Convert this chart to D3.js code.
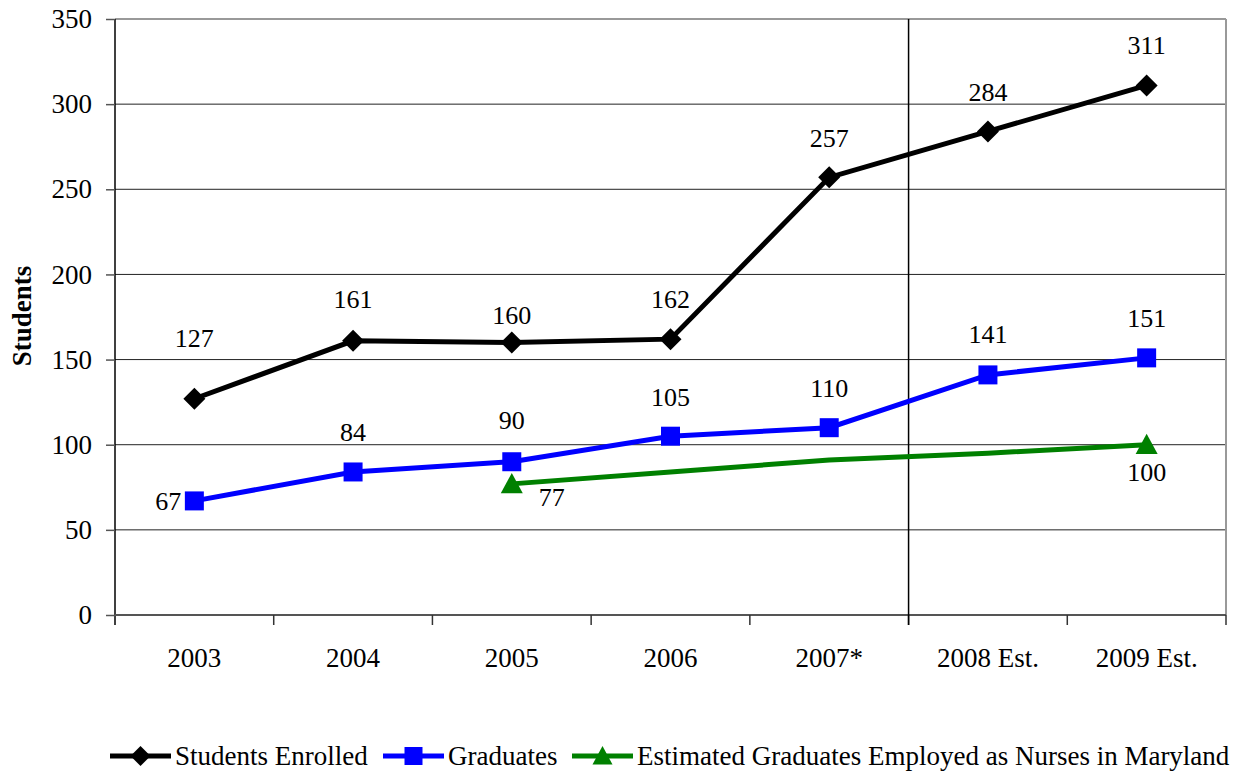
<!DOCTYPE html>
<html>
<head>
<meta charset="utf-8">
<script src="https://cdn.jsdelivr.net/npm/d3@7"></script>
<style>
  html, body { margin: 0; padding: 0; background: #fff; }
  svg { display: block; font-family: "Liberation Serif", "Times New Roman", serif; }
</style>
</head>
<body>
<svg id="chart" width="1242" height="772"></svg>
<script>
const categories = ["2003", "2004", "2005", "2006", "2007*", "2008 Est.", "2009 Est."];
const enrolled = [127, 161, 160, 162, 257, 284, 311];
const graduates = [67, 84, 90, 105, 110, 141, 151];
const employed = [null, null, 77, 84, 91, 95, 100];
const employedMarked = [false, false, true, false, false, false, true];
const yTicks = [0, 50, 100, 150, 200, 250, 300, 350];
const seriesNames = ["Students Enrolled", "Graduates", "Estimated Graduates Employed as Nurses in Maryland"];

// label offsets (styling)
const enrolledLabelDy = [-60, -41, -27, -40, -39, -39, -40];
const gradLabelDy = [1, -39, -41, -39, -39, -40, -39];
const gradLabelDx = [-26, 0, 0, 0, 0, 0, 0];

const svg = d3.select("#chart");
const m = { left: 115, right: 1226, top: 19, bottom: 615 };

const x = d3.scaleBand().domain(categories).range([m.left, m.right]).padding(0);
const y = d3.scaleLinear().domain([0, 350]).range([m.bottom, m.top]);
const cx = d => x(d) + x.bandwidth() / 2;

// gridlines
svg.append("g").selectAll("line").data(yTicks.filter(t => t > 0 && t < 350)).join("line")
  .attr("x1", m.left).attr("x2", m.right)
  .attr("y1", d => y(d)).attr("y2", d => y(d))
  .attr("stroke", "#222").attr("stroke-width", 1);

// top & right border
svg.append("line").attr("x1", m.left).attr("x2", m.right).attr("y1", y(350)).attr("y2", y(350))
  .attr("stroke", "#999").attr("stroke-width", 2);
svg.append("line").attr("x1", m.right).attr("x2", m.right).attr("y1", m.top).attr("y2", m.bottom)
  .attr("stroke", "#999").attr("stroke-width", 2);

// y axis
const yAxis = d3.axisLeft(y).tickValues(yTicks).tickSize(9).tickPadding(14);
const gy = svg.append("g").attr("transform", `translate(${m.left},0)`).call(yAxis);
gy.select(".domain").attr("stroke", "#000").attr("stroke-width", 1.5).attr("d", `M0,${m.top}V${m.bottom + 10}`);
gy.selectAll(".tick line").attr("stroke", "#555").attr("stroke-width", 1.5);
gy.selectAll(".tick text").attr("font-family", "Liberation Serif").attr("font-size", 27).attr("fill", "#000");

// x axis
const xAxis = d3.axisBottom(x).tickSize(0).tickPadding(33);
const gx = svg.append("g").attr("transform", `translate(0,${m.bottom})`).call(xAxis);
gx.select(".domain").attr("stroke", "#555").attr("stroke-width", 2).attr("d", `M${m.left},0H${m.right}`);
gx.selectAll(".tick text").attr("font-family", "Liberation Serif").attr("font-size", 27).attr("fill", "#000");
// boundary ticks
const bounds = categories.map(c => x(c)).concat([m.right]).slice(1);
svg.append("g").selectAll("line").data(bounds).join("line")
  .attr("x1", d => d).attr("x2", d => d).attr("y1", m.bottom).attr("y2", m.bottom + 10)
  .attr("stroke", "#333").attr("stroke-width", 1.5);

// vertical separator between 2007 and 2008
svg.append("line")
  .attr("x1", x(categories[5])).attr("x2", x(categories[5]))
  .attr("y1", m.top).attr("y2", m.bottom + 10)
  .attr("stroke", "#000").attr("stroke-width", 1.5);

// y title
svg.append("text")
  .attr("transform", `translate(31,316) rotate(-90)`)
  .attr("text-anchor", "middle")
  .attr("font-family", "Liberation Serif").attr("font-weight", "bold").attr("font-size", 27)
  .text("Students");

const line = d3.line().defined(d => d.v != null).x(d => cx(d.c)).y(d => y(d.v));
const toPts = arr => arr.map((v, i) => ({ c: categories[i], v, i }));

function diamondPath(s) { return `M0,${-s}L${s},0L0,${s}L${-s},0Z`; }
function squarePath(s) { return `M${-s},${-s}H${s}V${s}H${-s}Z`; }
function trianglePath(s) { return `M0,${-s}L${s},${s * 0.85}L${-s},${s * 0.85}Z`; }

// green series
svg.append("path").datum(toPts(employed)).attr("d", line)
  .attr("fill", "none").attr("stroke", "#008000").attr("stroke-width", 5);
// blue series
svg.append("path").datum(toPts(graduates)).attr("d", line)
  .attr("fill", "none").attr("stroke", "#0000ff").attr("stroke-width", 5);
// black series
svg.append("path").datum(toPts(enrolled)).attr("d", line)
  .attr("fill", "none").attr("stroke", "#000").attr("stroke-width", 5);

// markers
svg.append("g").selectAll("path").data(toPts(employed).filter(d => employedMarked[d.i])).join("path")
  .attr("transform", d => `translate(${cx(d.c)},${y(d.v)})`)
  .attr("d", trianglePath(11)).attr("fill", "#008000");
svg.append("g").selectAll("path").data(toPts(graduates)).join("path")
  .attr("transform", d => `translate(${cx(d.c)},${y(d.v)})`)
  .attr("d", squarePath(9.5)).attr("fill", "#0000ff");
svg.append("g").selectAll("path").data(toPts(enrolled)).join("path")
  .attr("transform", d => `translate(${cx(d.c)},${y(d.v)})`)
  .attr("d", diamondPath(11)).attr("fill", "#000");

// labels
const lab = svg.append("g").attr("font-family", "Liberation Serif").attr("font-size", 26).attr("fill", "#000");
lab.selectAll("text.e").data(toPts(enrolled)).join("text").attr("class", "e")
  .attr("x", d => cx(d.c)).attr("y", d => y(d.v) + enrolledLabelDy[d.i])
  .attr("text-anchor", "middle").attr("dominant-baseline", "central").text(d => d.v);
lab.selectAll("text.g").data(toPts(graduates)).join("text").attr("class", "g")
  .attr("x", d => cx(d.c) + gradLabelDx[d.i]).attr("y", d => y(d.v) + gradLabelDy[d.i])
  .attr("text-anchor", "middle").attr("dominant-baseline", "central").text(d => d.v);
const empLab = toPts(employed).filter(d => employedMarked[d.i]);
lab.selectAll("text.m").data(empLab).join("text").attr("class", "m")
  .attr("x", (d, k) => cx(d.c) + (k === 0 ? 40 : 0))
  .attr("y", (d, k) => y(d.v) + (k === 0 ? 14 : 28))
  .attr("text-anchor", "middle").attr("dominant-baseline", "central").text(d => d.v);

// legend
const legendItems = [
  { name: seriesNames[0], color: "#000", shape: diamondPath(10), x0: 110 },
  { name: seriesNames[1], color: "#0000ff", shape: squarePath(9), x0: 383 },
  { name: seriesNames[2], color: "#008000", shape: trianglePath(10), x0: 572 }
];
const ly = 756;
const lg = svg.append("g");
legendItems.forEach(it => {
  lg.append("line").attr("x1", it.x0).attr("x2", it.x0 + 61).attr("y1", ly).attr("y2", ly)
    .attr("stroke", it.color).attr("stroke-width", 5);
  lg.append("path").attr("transform", `translate(${it.x0 + 30.5},${ly})`).attr("d", it.shape).attr("fill", it.color);
  lg.append("text").attr("x", it.x0 + 65).attr("y", ly).attr("dominant-baseline", "central")
    .attr("font-family", "Liberation Serif").attr("font-size", 27).text(it.name);
});
</script>
</body>
</html>
